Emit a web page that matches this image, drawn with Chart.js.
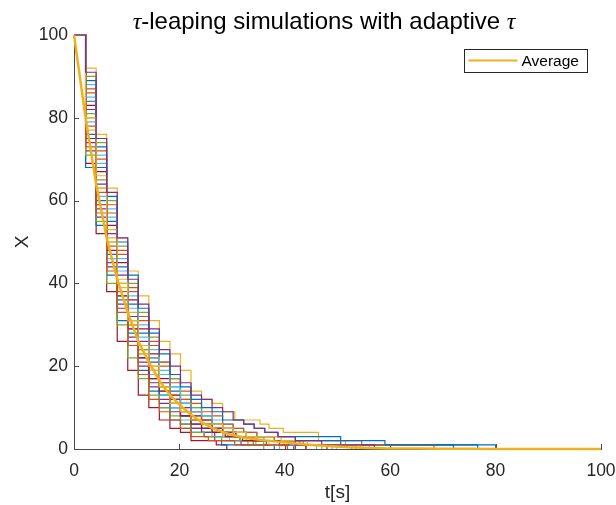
<!DOCTYPE html>
<html>
<head>
<meta charset="utf-8">
<script src="https://cdn.jsdelivr.net/npm/chart.js@4.4.1/dist/chart.umd.min.js"></script>
<style>
  html, body { margin: 0; padding: 0; background: #fff; overflow: hidden; }
  #wrap { width: 616px; height: 505px; position: relative; }
  canvas { display: block; }
</style>
</head>
<body>
<div id="wrap"><canvas id="chart"></canvas></div>
<script>
// ---------- Data ----------
// shared leap times while tau is still constant (~2 s)
const GRID_T = [0, 2.2, 4.2, 6.2, 8.2, 10.2, 12.2, 14.2, 16.2, 18.2, 20.2, 22.2];

// X of each simulation on GRID_T
const SIM_X = [
  [100, 84, 68, 55, 44, 35, 28, 22, 18, 14, 11, 9],
  [100, 78, 62, 49, 38, 30, 24, 19, 15, 12, 9, 7],
  [100, 92, 76, 63, 51, 43, 37, 31, 26, 23, 19, 14],
  [100, 72, 56, 44, 34, 26, 20, 16, 12, 10, 8, 6],
  [100, 81, 65, 50, 40, 31, 24, 18, 14, 11, 9, 7],
  [100, 88, 71, 58, 46, 37, 30, 24, 19, 15, 12, 10],
  [100, 69, 52, 38, 26, 19, 13, 10, 7, 5, 4, 2],
  [100, 76, 60, 47, 36, 28, 22, 17, 13, 10, 8, 5],
  [100, 86, 70, 57, 47, 38, 31, 25, 20, 17, 14, 11],
  [100, 80, 63, 51, 41, 33, 25, 20, 16, 13, 10, 8],
  [100, 74, 58, 45, 35, 27, 21, 15, 11, 9, 6, 5],
  [100, 90, 74, 60, 49, 40, 33, 27, 21, 17, 13, 10],
  [100, 79, 61, 46, 37, 29, 23, 18, 13, 10, 7, 6],
  [100, 83, 67, 54, 45, 36, 29, 23, 17, 13, 11, 8],
  [100, 68, 54, 42, 31, 25, 19, 14, 10, 7, 5, 4],
  [100, 87, 72, 59, 48, 39, 32, 26, 21, 16, 12, 9],
  [100, 77, 63, 50, 39, 30, 23, 19, 15, 12, 9, 7],
  [100, 82, 64, 52, 42, 32, 26, 21, 16, 12, 10, 7],
  [100, 71, 55, 40, 30, 22, 17, 13, 10, 8, 6, 4],
  [100, 85, 69, 56, 43, 34, 27, 22, 18, 15, 11, 9],
  [100, 75, 59, 48, 37, 29, 22, 17, 14, 11, 8, 6],
  [100, 89, 73, 61, 50, 42, 34, 28, 23, 18, 15, 12],
  [100, 73, 57, 43, 33, 25, 18, 12, 9, 7, 5, 3],
  [100, 80, 66, 53, 40, 31, 25, 20, 15, 11, 9, 7],
  [100, 91, 75, 62, 51, 41, 35, 29, 24, 20, 16, 13]
];

// tail of each simulation, where tau grows as X gets small
const TAIL_T = [
  [24.2, 26.2, 28.2, 30.2, 32.7, 36.0, 41.0, 72.0],
  [24.2, 26.2, 28.2, 30.7, 34.0, 44.0],
  [24.2, 26.2, 28.2, 30.5, 35.3, 37.0, 39.7, 46.4, 51.5, 56.0],
  [24.2, 26.2, 28.2, 31.5, 36.5, 40.5],
  [24.2, 26.2, 28.2, 31.5, 36.0, 47.0],
  [24.2, 26.2, 28.2, 30.2, 32.2, 34.7, 38.0, 43.0, 49.0],
  [24.2, 27.0, 29.0],
  [24.2, 26.7, 29.2, 50.6, 76.6],
  [24.2, 26.2, 28.2, 30.2, 32.2, 34.7, 38.0, 54.6, 68.3],
  [24.2, 26.2, 28.2, 31.5, 34.8, 39.8, 49.8],
  [24.2, 26.7, 31.7, 41.7],
  [24.2, 26.2, 28.2, 30.2, 32.7, 42.7, 52.7],
  [24.2, 26.2, 29.5, 34.5, 39.0],
  [24.2, 26.2, 28.2, 30.7, 34.0, 39.0, 44.0],
  [24.7, 28.0, 38.0],
  [24.2, 26.2, 28.2, 30.2, 33.5, 43.5, 53.5],
  [24.2, 26.2, 28.7, 32.0, 37.0, 47.0],
  [24.2, 26.2, 28.2, 30.7, 34.0, 39.0, 42.0],
  [24.7, 28.0, 33.0, 36.0],
  [24.2, 26.2, 28.2, 30.2, 32.7, 36.0, 41.0, 46.0],
  [24.2, 26.2, 28.7, 32.0, 42.0, 48.0],
  [24.2, 26.2, 28.2, 32.2, 34.2, 36.2, 38.7, 42.0, 59.0, 80.0],
  [25.5, 30.5, 40.5],
  [24.2, 26.2, 28.2, 30.2, 32.7, 39.3, 44.3, 54.3],
  [24.2, 26.2, 28.2, 30.2, 32.2, 34.2, 36.2, 38.7, 42.0, 47.0, 57.0]
];
const TAIL_X = [
  [7, 6, 5, 4, 3, 2, 1, 0],
  [6, 5, 4, 3, 1, 0],
  [12, 11, 9, 7, 6, 5, 4, 2, 1, 0],
  [5, 4, 3, 2, 1, 0],
  [5, 5, 3, 2, 1, 0],
  [8, 7, 6, 5, 4, 3, 2, 1, 0],
  [2, 1, 0],
  [4, 4, 3, 1, 0],
  [9, 8, 6, 5, 4, 3, 2, 1, 0],
  [6, 5, 3, 3, 2, 1, 0],
  [4, 2, 1, 0],
  [8, 6, 5, 4, 2, 1, 0],
  [5, 3, 2, 1, 0],
  [7, 5, 4, 3, 2, 1, 0],
  [3, 1, 0],
  [7, 6, 5, 3, 2, 1, 0],
  [6, 4, 3, 2, 1, 0],
  [6, 5, 4, 3, 2, 1, 0],
  [3, 2, 1, 0],
  [8, 6, 5, 4, 3, 2, 1, 0],
  [5, 4, 3, 2, 1, 0],
  [10, 9, 7, 6, 5, 4, 3, 2, 1, 0],
  [2, 1, 0],
  [6, 6, 5, 4, 3, 2, 1, 0],
  [12, 10, 9, 7, 6, 5, 4, 3, 2, 1, 0]
];

// average over all runs
const AVG_T = [0, 2.2, 4.2, 6.2, 8.2, 10.2, 12.2, 14.2, 16.2, 18.2, 20.2, 22.2, 24.2, 26.2, 28.2,
               30, 33, 36, 40, 44, 48, 52, 56, 60, 65, 70, 75, 80, 90, 100];
const AVG_X = [100, 80, 64, 51, 41, 33, 26, 21, 16.5, 13, 10.5, 8.3, 6.5, 5.1, 4.1,
               3.4, 2.6, 2.1, 1.6, 1.1, 0.7, 0.4, 0.25, 0.15, 0.1, 0.07, 0.05, 0, 0, 0];

const X_TICKS = [0, 20, 40, 60, 80, 100];
const Y_TICKS = [0, 20, 40, 60, 80, 100];

// MATLAB default colour order
const COLORS = ['#0072BD', '#D95319', '#EDB120', '#7E2F8E', '#77AC30', '#4DBEEE', '#A2142F'];
const AVG_COLOR = '#EDB120';
const AXIS_COLOR = '#4a4a4a';
const TEXT_COLOR = '#262626';
const FONT = '"Liberation Sans", Arial, sans-serif';

// ---------- Datasets ----------
const datasets = [{
  label: 'Average',
  data: AVG_T.map((t, k) => ({ x: t, y: AVG_X[k] })),
  borderColor: AVG_COLOR,
  borderWidth: 2.5,
  pointRadius: 0,
  order: 0,
  clip: 4
}];

SIM_X.forEach((row, i) => {
  const pts = GRID_T.map((t, k) => ({ x: t, y: row[k] }))
    .concat(TAIL_T[i].map((t, k) => ({ x: t, y: TAIL_X[i][k] })));
  datasets.push({
    label: 'run ' + (i + 1),
    data: pts,
    borderColor: COLORS[i % COLORS.length],
    borderWidth: 1.2,
    pointRadius: 0,
    stepped: true,
    order: SIM_X.length - i,
    clip: 4
  });
});

// ---------- Decorations: inward ticks, title, legend ----------
const decor = {
  id: 'decor',
  beforeDatasetsDraw(chart) {
    const { ctx, chartArea: a, scales: { x, y } } = chart;
    ctx.save();
    ctx.strokeStyle = AXIS_COLOR;
    ctx.lineWidth = 1;
    ctx.beginPath();
    X_TICKS.forEach(v => {
      const px = Math.round(x.getPixelForValue(v)) + 0.5;
      ctx.moveTo(px, a.bottom);
      ctx.lineTo(px, a.bottom - 5);
    });
    Y_TICKS.forEach(v => {
      const py = Math.round(y.getPixelForValue(v)) + 0.5;
      ctx.moveTo(a.left, py);
      ctx.lineTo(a.left + 5, py);
    });
    ctx.stroke();
    ctx.restore();
  },
  afterDraw(chart) {
    const { ctx, chartArea: a } = chart;
    ctx.save();

    // legend box (top right, inside the axes)
    const bx = a.right - 136.5, by = a.top + 14.5, bw = 123, bh = 23;
    ctx.fillStyle = '#fff';
    ctx.fillRect(bx, by, bw, bh);
    ctx.strokeStyle = TEXT_COLOR;
    ctx.lineWidth = 1;
    ctx.strokeRect(bx, by, bw, bh);
    ctx.strokeStyle = AVG_COLOR;
    ctx.lineWidth = 2;
    ctx.beginPath();
    ctx.moveTo(bx + 4, by + 11);
    ctx.lineTo(bx + 53, by + 11);
    ctx.stroke();
    ctx.fillStyle = '#000';
    ctx.font = '15.5px ' + FONT;
    ctx.textBaseline = 'middle';
    ctx.textAlign = 'left';
    ctx.fillText('Average', bx + 57, by + 12);

    // title with italic tau
    const size = 24;
    const tauFont = 'italic ' + size + 'px "Liberation Serif", serif';
    const txtFont = size + 'px ' + FONT;
    const parts = [['τ', tauFont], ['-leaping simulations with adaptive ', txtFont], ['τ', tauFont]];
    let w = 0;
    parts.forEach(p => { ctx.font = p[1]; w += ctx.measureText(p[0]).width; });
    let tx = 324 - w / 2;
    ctx.textBaseline = 'alphabetic';
    ctx.fillStyle = '#000';
    parts.forEach(p => {
      ctx.font = p[1];
      ctx.fillText(p[0], tx, 29);
      tx += ctx.measureText(p[0]).width;
    });
    ctx.restore();
  }
};

// keep the plot box fixed: no extra room for overhanging tick labels
function fixX(s) { s.height = 56; s.paddingLeft = 0; s.paddingRight = 0; }
function fixY(s) { s.width = 74; s.paddingTop = 0; s.paddingBottom = 0; }

// ---------- Chart ----------
new Chart(document.getElementById('chart'), {
  type: 'line',
  data: { datasets },
  options: {
    responsive: true,
    maintainAspectRatio: false,
    animation: false,
    devicePixelRatio: 1,
    layout: { autoPadding: false, padding: { left: 0, right: 15, top: 35, bottom: 0 } },
    plugins: {
      legend: { display: false },
      title: { display: false },
      tooltip: { enabled: false }
    },
    scales: {
      x: {
        type: 'linear',
        min: 0,
        max: 100,
        afterFit: fixX,
        afterBuildTicks: s => { s.ticks = X_TICKS.map(v => ({ value: v })); },
        grid: { display: false, drawTicks: false },
        border: { display: true, color: AXIS_COLOR, width: 1 },
        ticks: { color: TEXT_COLOR, font: { family: FONT, size: 17.5 }, padding: 12, maxRotation: 0, autoSkip: false },
        title: { display: true, text: 't[s]', color: TEXT_COLOR, font: { family: FONT, size: 19 }, padding: { top: 0, bottom: 1 } }
      },
      y: {
        type: 'linear',
        min: 0,
        max: 100,
        afterFit: fixY,
        afterBuildTicks: s => { s.ticks = Y_TICKS.map(v => ({ value: v })); },
        grid: { display: false, drawTicks: false },
        border: { display: true, color: AXIS_COLOR, width: 1 },
        ticks: { color: TEXT_COLOR, font: { family: FONT, size: 17.5 }, padding: 6, autoSkip: false },
        title: { display: true, text: 'X', color: TEXT_COLOR, font: { family: FONT, size: 19 }, padding: { top: 11, bottom: 0 } }
      }
    }
  },
  plugins: [decor]
});
</script>
</body>
</html>
